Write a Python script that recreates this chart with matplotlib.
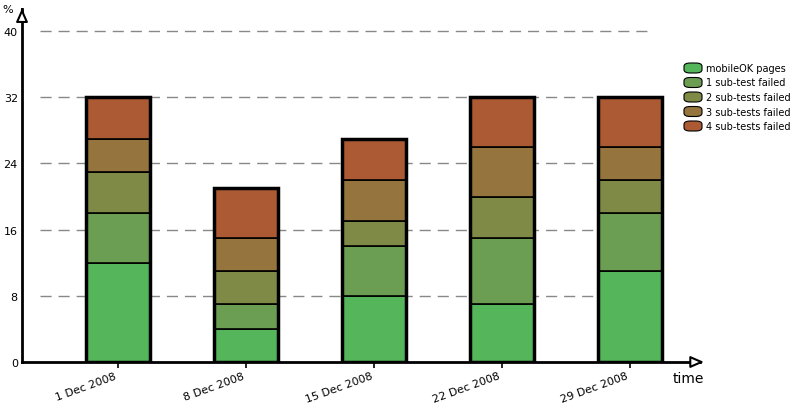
import matplotlib
matplotlib.use("Agg")
import matplotlib.pyplot as plt
from matplotlib.patches import FancyBboxPatch
import numpy as np

categories = ["1 Dec 2008", "8 Dec 2008", "15 Dec 2008", "22 Dec 2008", "29 Dec 2008"]
series_names = ["mobileOK pages", "1 sub-test failed", "2 sub-tests failed", "3 sub-tests failed", "4 sub-tests failed"]
mobileok = [12, 4, 8, 7, 11]
fail1 = [6, 3, 6, 8, 7]
fail2 = [5, 4, 3, 5, 4]
fail3 = [4, 4, 5, 6, 4]
fail4 = [5, 6, 5, 6, 6]
colors = ["#55b55a", "#6b9e52", "#7f8a46", "#95743d", "#ab5a33"]
yticks = [0, 8, 16, 24, 32, 40]

fig = plt.figure(figsize=(7.95, 4.10), dpi=100)
ax = fig.add_axes([22/795, 1-363/410, (700-22)/795, (363-10)/410])
x = np.arange(len(categories))
bottom = np.zeros(len(categories))
for vals, c in zip([mobileok, fail1, fail2, fail3, fail4], colors):
    ax.bar(x, vals, 0.5, bottom=bottom, color=c, edgecolor="black", linewidth=1.2, zorder=3)
    bottom += np.array(vals)
ax.bar(x, bottom, 0.5, fill=False, edgecolor="black", linewidth=2.5, zorder=4)

ax.set_xlim(-0.75, 4.55)
ax.set_ylim(0, 40 * (363-10)/(363-32))
for t in yticks[1:]:
    ax.axhline(t, xmin=0.027, xmax=0.93, color="#888888", lw=1, dashes=(8, 5), zorder=1)
ax.set_yticks(yticks)
ax.set_yticklabels([str(t) for t in yticks], fontsize=8)
ax.set_xticks(x)
ax.set_xticklabels(categories, rotation=20, ha="right", fontsize=8)
for s in ["top", "right"]:
    ax.spines[s].set_visible(False)
for s in ["left", "bottom"]:
    ax.spines[s].set_linewidth(2)
ax.tick_params(axis="y", length=0, pad=3)
ax.tick_params(axis="x", width=1.2, length=4, direction="out", pad=2)
ax.annotate("", xy=(1.01, 0), xycoords="axes fraction", xytext=(0.99, 0),
            arrowprops=dict(arrowstyle="-|>,head_width=0.35,head_length=0.8", fc="white", ec="black", lw=1.5), annotation_clip=False)
ax.annotate("", xy=(0, 1.01), xycoords="axes fraction", xytext=(0, 0.99),
            arrowprops=dict(arrowstyle="-|>,head_width=0.35,head_length=0.8", fc="white", ec="black", lw=1.5), annotation_clip=False)
fig.text(2/795, 1-10/410, "%", fontsize=8, va="center")
fig.text(673/795, 1-379/410, "time", fontsize=10, va="center")

for i, (name, c) in enumerate(zip(series_names, colors)):
    yy = 1 - (69 + i*14.5)/410
    fig.patches.append(FancyBboxPatch((684/795, yy-5/410), 18/795, 10/410,
                       boxstyle="round,pad=0,rounding_size=0.008", transform=fig.transFigure,
                       fc=c, ec="black", lw=0.8))
    fig.text(706/795, yy, name, fontsize=7, va="center")

fig.savefig("out.png", dpi=100)
